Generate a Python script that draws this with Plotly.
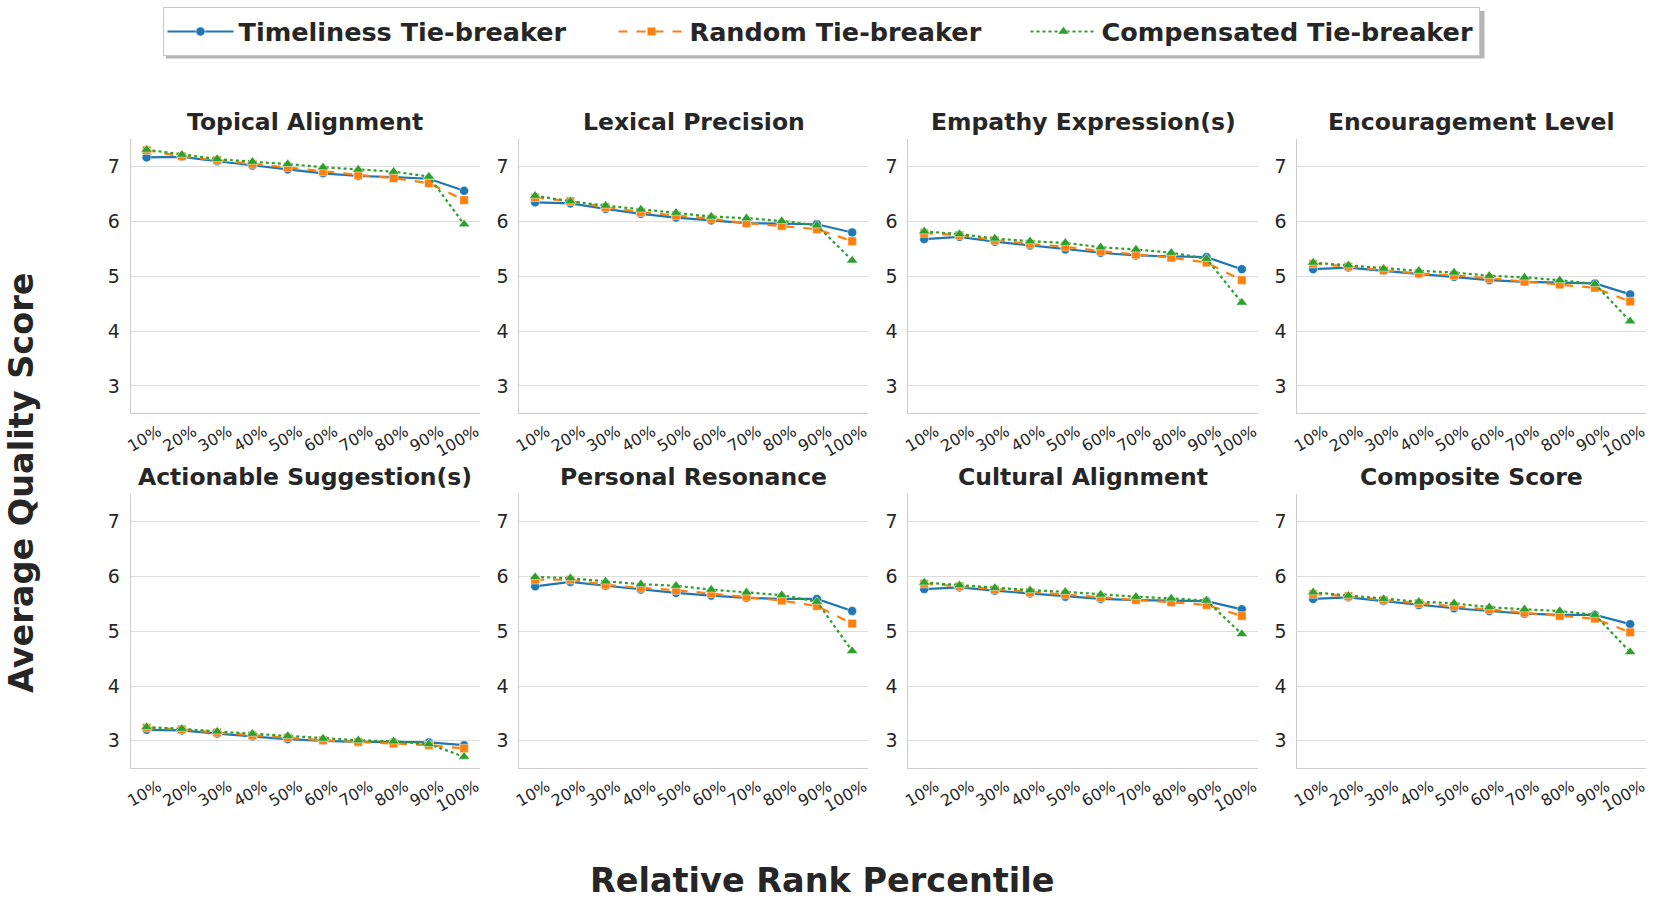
import plotly.graph_objects as go

W, H = 1661, 904

percentiles = ["10%", "20%", "30%", "40%", "50%", "60%", "70%", "80%", "90%", "100%"]
series_names = ["Timeliness Tie-breaker", "Random Tie-breaker", "Compensated Tie-breaker"]
panel_titles = ["Topical Alignment", "Lexical Precision", "Empathy Expression(s)", "Encouragement Level",
                "Actionable Suggestion(s)", "Personal Resonance", "Cultural Alignment", "Composite Score"]

# values per panel: [timeliness, random, compensated]
topical_alignment = [
    [7.17, 7.18, 7.10, 7.02, 6.95, 6.88, 6.83, 6.81, 6.78, 6.56],
    [7.30, 7.19, 7.12, 7.05, 6.99, 6.91, 6.85, 6.79, 6.70, 6.39],
    [7.31, 7.22, 7.14, 7.09, 7.05, 6.99, 6.95, 6.91, 6.82, 5.95],
]
lexical_precision = [
    [6.35, 6.33, 6.23, 6.14, 6.07, 6.02, 5.97, 5.96, 5.95, 5.80],
    [6.44, 6.37, 6.26, 6.17, 6.11, 6.05, 5.97, 5.92, 5.86, 5.64],
    [6.47, 6.37, 6.29, 6.22, 6.16, 6.09, 6.06, 6.01, 5.93, 5.29],
]
empathy_expression = [
    [5.68, 5.72, 5.63, 5.56, 5.49, 5.43, 5.38, 5.37, 5.35, 5.13],
    [5.79, 5.75, 5.66, 5.59, 5.54, 5.46, 5.40, 5.34, 5.25, 4.93],
    [5.82, 5.77, 5.69, 5.64, 5.61, 5.53, 5.49, 5.43, 5.32, 4.52],
]
encouragement_level = [
    [5.13, 5.16, 5.10, 5.04, 4.99, 4.93, 4.90, 4.88, 4.87, 4.67],
    [5.23, 5.18, 5.11, 5.05, 5.02, 4.96, 4.90, 4.85, 4.79, 4.54],
    [5.25, 5.20, 5.14, 5.10, 5.07, 5.01, 4.98, 4.93, 4.86, 4.18],
]
actionable_suggestion = [
    [3.20, 3.19, 3.13, 3.08, 3.03, 3.00, 2.98, 2.98, 2.97, 2.92],
    [3.24, 3.21, 3.15, 3.10, 3.06, 3.01, 2.98, 2.95, 2.92, 2.86],
    [3.25, 3.22, 3.17, 3.13, 3.09, 3.04, 3.01, 2.99, 2.94, 2.71],
]
personal_resonance = [
    [5.82, 5.90, 5.83, 5.76, 5.70, 5.65, 5.61, 5.59, 5.59, 5.37],
    [5.94, 5.94, 5.85, 5.79, 5.75, 5.69, 5.63, 5.56, 5.46, 5.14],
    [5.99, 5.97, 5.91, 5.86, 5.83, 5.76, 5.71, 5.66, 5.54, 4.64],
]
cultural_alignment = [
    [5.77, 5.80, 5.74, 5.69, 5.63, 5.59, 5.57, 5.56, 5.55, 5.40],
    [5.87, 5.82, 5.76, 5.71, 5.67, 5.62, 5.57, 5.53, 5.48, 5.28],
    [5.89, 5.84, 5.79, 5.75, 5.72, 5.67, 5.63, 5.60, 5.56, 4.95],
]
composite_score = [
    [5.59, 5.62, 5.55, 5.48, 5.42, 5.37, 5.32, 5.30, 5.30, 5.13],
    [5.68, 5.64, 5.57, 5.51, 5.46, 5.40, 5.34, 5.28, 5.23, 4.98],
    [5.71, 5.65, 5.59, 5.54, 5.51, 5.44, 5.40, 5.37, 5.30, 4.62],
]
y_ticks = [3, 4, 5, 6, 7]

panels = [topical_alignment, lexical_precision, empathy_expression, encouragement_level,
          actionable_suggestion, personal_resonance, cultural_alignment, composite_score]

colors = ["#1f77b4", "#ff7f0e", "#2ca02c"]
dashes = ["solid", "dash", "dot"]
symbols = ["circle", "square", "triangle-up"]
msizes = [9, 8.5, 10]
legend_widths = [370, 331, 0]

TXT = "#262626"
FONT = "DejaVu Sans"
GRID = "#dcdcdc"
SPINE = "#cccccc"

# panel positions in pixels
x_px = [(130.7, 480.0), (519.3, 868.0), (908.3, 1257.7), (1297.3, 1646.0)]
y_px = [(139.3, 413.3), (494.3, 768.2)]

# legend box (pixels) and its drop shadow
LEG_X, LEG_Y = 162.5, 7.4
SHADOW = dict(x0=166, x1=1484.5, y0=11, y1=58.5)

fig = go.Figure()
layout = {}
annotations = []
for i, vals in enumerate(panels):
    r, c = divmod(i, 4)
    ax = "" if i == 0 else str(i + 1)
    xd = [x_px[c][0] / W, x_px[c][1] / W]
    yd = [1 - y_px[r][1] / H, 1 - y_px[r][0] / H]
    for s in range(3):
        fig.add_trace(go.Scatter(
            x=percentiles, y=vals[s], mode="lines+markers", name=series_names[s],
            legendgroup=series_names[s], showlegend=(i == 0), legendwidth=legend_widths[s],
            line=dict(color=colors[s], dash=dashes[s], width=2.2),
            marker=dict(symbol=symbols[s], size=msizes[s], color=colors[s],
                        line=dict(color="rgba(255,255,255,0.6)", width=0.8)),
            xaxis="x" + ax, yaxis="y" + ax,
        ))
    layout["xaxis" + ax] = dict(
        domain=xd, anchor="y" + ax, type="category", range=[-0.45, 9.45],
        categoryorder="array", categoryarray=percentiles,
        showline=True, linecolor=SPINE, linewidth=1, showgrid=False, zeroline=False,
        tickangle=-30, tickfont=dict(family=FONT, size=16, color=TXT),
        ticks="", ticklabelshift=12, ticklabelstandoff=2, automargin=False,
    )
    layout["yaxis" + ax] = dict(
        domain=yd, anchor="x" + ax, range=[2.5, 7.5], tickvals=y_ticks,
        showline=True, linecolor=SPINE, linewidth=1, showgrid=True, gridcolor=GRID,
        gridwidth=1, zeroline=False, ticks="", ticklabelstandoff=6,
        tickfont=dict(family=FONT, size=19, color=TXT), automargin=False,
    )
    title_y = [121.7, 476.7][r]
    annotations.append(dict(
        text="<b>" + panel_titles[i] + "</b>", x=(xd[0] + xd[1]) / 2, y=1 - title_y / H,
        xref="paper", yref="paper", xanchor="center", yanchor="middle", showarrow=False,
        font=dict(family=FONT, size=23.5, color=TXT),
    ))

annotations.append(dict(
    text="<b>Relative Rank Percentile</b>", x=822 / W, y=1 - 880 / H, xref="paper", yref="paper",
    xanchor="center", yanchor="middle", showarrow=False, font=dict(family=FONT, size=33.5, color=TXT),
))
annotations.append(dict(
    text="<b>Average Quality Score</b>", x=21 / W, y=1 - 483 / H, xref="paper", yref="paper",
    xanchor="center", yanchor="middle", showarrow=False, textangle=-90,
    font=dict(family=FONT, size=33.5, color=TXT),
))

shapes = [dict(type="rect", xref="paper", yref="paper",
               x0=SHADOW["x0"] / W, x1=SHADOW["x1"] / W,
               y0=1 - SHADOW["y1"] / H, y1=1 - SHADOW["y0"] / H,
               fillcolor="rgba(120,120,120,0.55)", line=dict(width=0), layer="above")]

fig.update_layout(
    width=W, height=H, margin=dict(l=0, r=0, t=0, b=0),
    paper_bgcolor="white", plot_bgcolor="white",
    annotations=annotations, shapes=shapes,
    legend=dict(orientation="h", x=LEG_X / W, xanchor="left", y=1 - LEG_Y / H, yanchor="top",
                font=dict(family=FONT, size=25.5, color=TXT, weight="bold"),
                bordercolor="#c8c8c8", borderwidth=1, bgcolor="white",
                itemwidth=66, tracegroupgap=0),
    **layout,
)

fig.write_html("out.html", config={"displayModeBar": False},
               post_script="document.body.style.margin='0';document.body.style.overflow='hidden';")
